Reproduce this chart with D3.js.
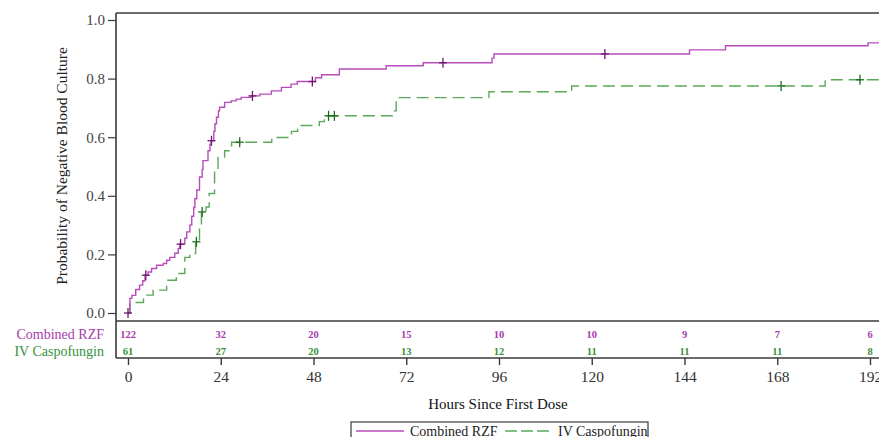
<!DOCTYPE html>
<html lang="en">
<head>
<meta charset="UTF-8">
<title>Negative Blood Culture</title>
<script src="https://d3js.org/d3.v7.min.js"></script>
<style>
  body { margin: 0; background: #fff; }
  svg text { font-family: "Liberation Serif", "Times New Roman", serif; }
</style>
</head>
<body>
<svg id="km" width="879" height="437"></svg>
<script>
// step times (hours) and probabilities after each step
var rzfTimes = [0, 0.5, 1.0, 2.0, 3.0, 3.8, 4.4, 5.2, 6.1, 7.4, 9.1, 10.0, 10.8, 12.1, 13.0, 13.4, 14.7, 15.2,
  16.0, 16.5, 17.0, 17.3, 17.8, 18.5, 19.2, 19.4, 20.7, 21.2, 21.5, 22.2, 22.5, 22.9, 23.4, 23.7, 25.0,
  26.7, 28.0, 29.3, 31.8, 34.1, 37.1, 39.7, 42.2, 43.8, 48.5, 50.1, 54.7, 66.8, 76.4, 94.2, 94.7,
  145.3, 154.6, 191.5, 199];
var rzfProb = [0, 0.05, 0.06, 0.08, 0.095, 0.11, 0.129, 0.14, 0.152, 0.163, 0.169, 0.18, 0.19, 0.204, 0.22,
  0.235, 0.255, 0.277, 0.30, 0.33, 0.36, 0.39, 0.42, 0.464, 0.49, 0.52, 0.554, 0.575, 0.588, 0.62, 0.646,
  0.668, 0.69, 0.702, 0.719, 0.724, 0.730, 0.736, 0.741, 0.747, 0.758, 0.77, 0.781, 0.79, 0.803, 0.813,
  0.833, 0.844, 0.854, 0.87, 0.884, 0.898, 0.912, 0.922, 0.922];
var rzfCensor = [0, 4.6, 13.6, 21.6, 32.2, 47.7, 81.5, 123.4];

var caspoTimes = [0, 0.5, 4.0, 6.5, 10.0, 12.5, 14.7, 16.0, 17.5, 18.5, 19.0, 20.2, 21.0, 22.4, 23.3, 25.0,
  26.8, 37.2, 42.3, 43.9, 49.5, 50.8, 68.4, 69.4, 93.4, 114.8, 180.4, 199];
var caspoProb = [0, 0.036, 0.061, 0.078, 0.112, 0.135, 0.19, 0.203, 0.243, 0.30, 0.345, 0.362, 0.408,
  0.486, 0.532, 0.554, 0.583, 0.599, 0.62, 0.64, 0.653, 0.673, 0.69, 0.735, 0.755, 0.775, 0.796, 0.796];
var caspoCensor = [17.7, 19.2, 28.9, 51.9, 53.4, 169.0, 189.4];

var atRiskTimes = [0, 24, 48, 72, 96, 120, 144, 168, 192];
var rzfAtRisk = [122, 32, 20, 15, 10, 10, 9, 7, 6];
var caspoAtRisk = [61, 27, 20, 13, 12, 11, 11, 11, 8];

var yTicks = [0, 0.2, 0.4, 0.6, 0.8, 1.0];
var groups = ["Combined RZF", "IV Caspofungin"];

var svg = d3.select("#km"),
    plotLeft = 116, plotTop = 13, plotBottom = 321, tableBottom = 358, plotRight = 900,
    purple = "#b84cbc", purpleDark = "#6e1670", purpleText = "#a83aac",
    green = "#5aa85a", greenDark = "#1c6a1c", greenText = "#35913a",
    frame = "#3a3a3a";

var x = d3.scaleLinear().domain([0, 192]).range([128, 870]);
var y = d3.scaleLinear().domain([0, 1]).range([313, 20]);

// frame
svg.append("line").attr("x1", plotLeft).attr("x2", plotRight).attr("y1", plotTop).attr("y2", plotTop)
  .attr("stroke", frame).attr("stroke-width", 1.4);
svg.append("line").attr("x1", plotLeft).attr("x2", plotLeft).attr("y1", plotTop).attr("y2", tableBottom)
  .attr("stroke", frame).attr("stroke-width", 1.6);
svg.append("line").attr("x1", plotLeft).attr("x2", plotRight).attr("y1", plotBottom).attr("y2", plotBottom)
  .attr("stroke", frame).attr("stroke-width", 1.6);
svg.append("line").attr("x1", plotLeft).attr("x2", plotRight).attr("y1", tableBottom).attr("y2", tableBottom)
  .attr("stroke", frame).attr("stroke-width", 1.6);

// y axis
var yAxis = svg.append("g").attr("transform", "translate(" + plotLeft + ",0)")
  .call(d3.axisLeft(y).tickValues(yTicks).tickFormat(d3.format(".1f")).tickSize(8).tickPadding(3));
yAxis.select(".domain").remove();
yAxis.selectAll("line").attr("stroke", frame).attr("stroke-width", 1.2);
yAxis.selectAll("text").attr("font-size", 15).attr("fill", "#444")
  .style("font-family", "'Liberation Serif', serif");

svg.append("text")
  .attr("transform", "translate(67,166) rotate(-90)")
  .attr("text-anchor", "middle").attr("font-size", 15.5).attr("fill", "#222")
  .text("Probability of Negative Blood Culture");

// x axis below the at-risk table
var xAxis = svg.append("g").attr("transform", "translate(0," + tableBottom + ")")
  .call(d3.axisBottom(x).tickValues(atRiskTimes).tickSize(7).tickPadding(6));
xAxis.select(".domain").remove();
xAxis.selectAll("line").attr("stroke", frame).attr("stroke-width", 1.4);
xAxis.selectAll("text").attr("font-size", 15.5).attr("fill", "#333")
  .style("font-family", "'Liberation Serif', serif");

svg.append("text").attr("x", 498).attr("y", 409).attr("text-anchor", "middle")
  .attr("font-size", 15).attr("fill", "#111").text("Hours Since First Dose");

// curves
var stepLine = d3.line().curve(d3.curveStepAfter)
  .x(function(d) { return x(d[0]); }).y(function(d) { return y(d[1]); });
svg.append("clipPath").attr("id", "plotclip").append("rect")
  .attr("x", plotLeft).attr("y", plotTop)
  .attr("width", plotRight - plotLeft).attr("height", plotBottom - plotTop);

function series(times, probs, censor, color, dark, dash) {
  var pts = d3.zip(times, probs);
  var g = svg.append("g").attr("clip-path", "url(#plotclip)");
  g.append("path").datum(pts).attr("d", stepLine).attr("fill", "none")
    .attr("stroke", color).attr("stroke-width", 1.4).attr("stroke-dasharray", dash);
  var marks = g.selectAll(".c").data(censor).enter().append("g")
    .attr("transform", function(t) {
      var i = Math.max(0, d3.bisectRight(times, t) - 1);
      return "translate(" + x(t) + "," + y(probs[i]) + ")";
    });
  marks.append("line").attr("x1", -4).attr("x2", 4).attr("stroke", dark).attr("stroke-width", 1.3);
  marks.append("line").attr("y1", -5).attr("y2", 5).attr("stroke", dark).attr("stroke-width", 1.3);
}
series(caspoTimes, caspoProb, caspoCensor, green, greenDark, "12,6");
series(rzfTimes, rzfProb, rzfCensor, purple, purpleDark, null);

// at-risk table
var rows = [[rzfAtRisk, purpleText, 338], [caspoAtRisk, greenText, 355]];
rows.forEach(function(r, k) {
  svg.append("text").attr("x", 104).attr("y", r[2] + 1).attr("text-anchor", "end")
    .attr("font-size", 14).attr("fill", r[1]).text(groups[k]);
  svg.selectAll(".n" + k).data(r[0]).enter().append("text")
    .attr("x", function(d, i) { return x(atRiskTimes[i]); })
    .attr("y", r[2]).attr("text-anchor", "middle")
    .attr("font-size", 10.5).attr("font-weight", "bold").attr("fill", r[1])
    .text(function(d) { return d; });
});

// legend
var lg = svg.append("g");
lg.append("rect").attr("x", 351).attr("y", 422).attr("width", 297).attr("height", 30)
  .attr("fill", "none").attr("stroke", frame).attr("stroke-width", 1.2);
lg.append("line").attr("x1", 356).attr("x2", 404).attr("y1", 431).attr("y2", 431)
  .attr("stroke", purple).attr("stroke-width", 1.4);
lg.append("text").attr("x", 410).attr("y", 436).attr("font-size", 14).attr("fill", "#222").text(groups[0]);
lg.append("line").attr("x1", 505).attr("x2", 549).attr("y1", 431).attr("y2", 431)
  .attr("stroke", green).attr("stroke-width", 1.4).attr("stroke-dasharray", "12,4");
lg.append("text").attr("x", 558).attr("y", 436).attr("font-size", 14).attr("fill", "#222").text(groups[1]);
</script>
</body>
</html>
